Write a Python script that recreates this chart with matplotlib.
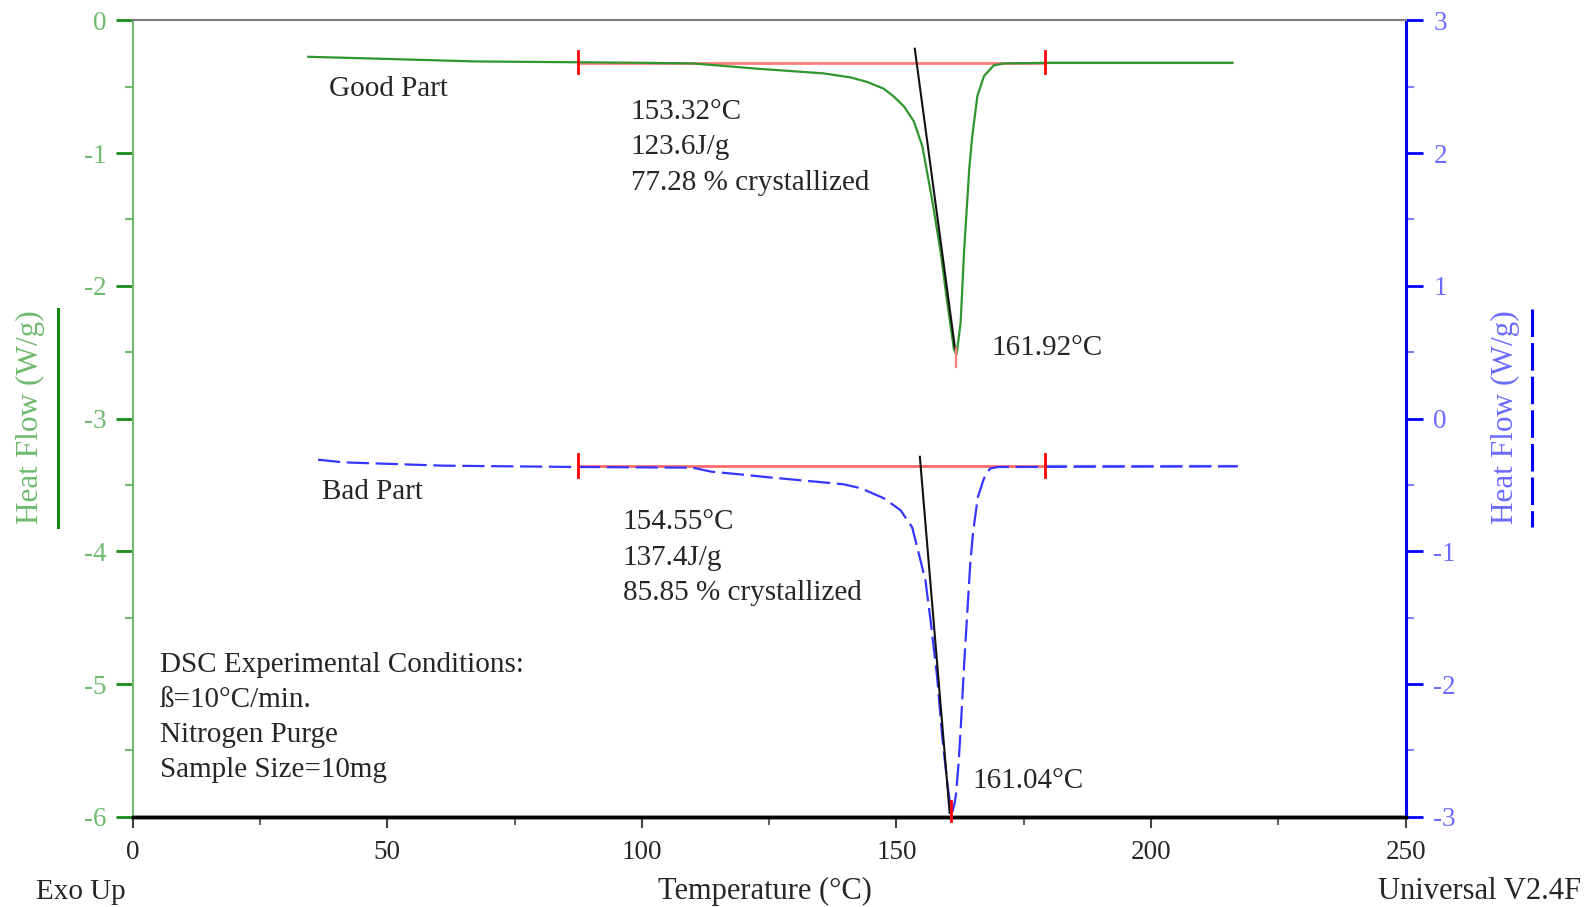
import matplotlib
matplotlib.use("Agg")
import matplotlib.pyplot as plt
from matplotlib.lines import Line2D
from matplotlib.ticker import MultipleLocator

plt.rcParams['font.family'] = ['Liberation Serif', 'DejaVu Serif']
plt.rcParams['axes.unicode_minus'] = False

# ---- data ----
good_T = [34.5, 49.0, 67.4, 100.0, 110.0, 116.5, 122.8, 128.4, 135.7, 141.0, 144.3,
          147.5, 149.5, 151.5, 153.4, 155.1, 157.0, 158.7, 160.0, 161.3, 161.8, 162.6,
          163.3, 164.3, 164.9, 165.9, 167.2, 169.1, 171.1, 180.0, 216.0]
good_HF = [-0.275, -0.29, -0.31, -0.32, -0.325, -0.345, -0.365, -0.38, -0.40, -0.43, -0.465,
           -0.515, -0.575, -0.65, -0.76, -0.95, -1.35, -1.75, -2.13, -2.48, -2.52, -2.28,
           -1.73, -1.12, -0.87, -0.57, -0.42, -0.34, -0.325, -0.32, -0.32]

bad_T = [36.4, 41.4, 61.1, 87.4, 110.0, 113.6, 120.0, 124.2, 132.6, 139.6, 143.0, 147.5,
         150.8, 153.1, 154.4, 155.7, 156.7, 158.0, 159.0, 160.0, 160.6, 161.0, 161.4,
         161.7, 162.2, 162.6, 163.3, 163.9, 164.5, 165.1, 166.0, 167.2, 168.4, 170.0, 217.0]
bad_HF = [-0.31, -0.33, -0.355, -0.365, -0.37, -0.40, -0.423, -0.44, -0.47, -0.495, -0.525,
          -0.60, -0.69, -0.82, -1.02, -1.22, -1.52, -1.95, -2.4, -2.75, -2.92, -2.96, -2.9,
          -2.83, -2.6, -2.35, -1.85, -1.47, -1.09, -0.84, -0.59, -0.45, -0.376, -0.365, -0.36]

# integration limits / baselines
limits_T = [87.4, 179.2]
good_base = -0.32
bad_base = -0.36
# tangent lines (onset construction)
good_tan_T = [153.6, 161.5]
good_tan_HF = [-0.214, -2.47]
bad_tan_T = [154.6, 160.45]
bad_tan_HF = [-0.288, -2.97]
good_peak_T = 161.6
bad_peak_T = 160.8

good_labels = ["153.32°C", "123.6J/g", "77.28 % crystallized"]
bad_labels = ["154.55°C", "137.4J/g", "85.85 % crystallized"]
cond_labels = ["DSC Experimental Conditions:", "ß=10°C/min.", "Nitrogen Purge",
               "Sample Size=10mg"]

x_ticks = [0, 50, 100, 150, 200, 250]
left_ticks = [0, -1, -2, -3, -4, -5, -6]
right_ticks = [3, 2, 1, 0, -1, -2, -3]

# ---- figure ----
W, H = 1589, 907
fig = plt.figure(figsize=(W / 100, H / 100), dpi=100)
L, R, T, B = 132.7, 1405.6, 20.3, 816.8
ax = fig.add_axes([L / W, 1 - B / H, (R - L) / W, (B - T) / H])
ax2 = ax.twinx()

GREEN_L = '#6fba6f'
GREEN = '#2f962f'
BLUE = '#3535ff'
TXT = '#262626'
FS = 21
FT = 19.5

ax.set_xlim(0, 250)
ax.set_ylim(-6, 0)
ax2.set_ylim(-3, 3)

# curves
ax.plot(good_T, good_HF, color=GREEN, lw=1.6, zorder=3)
ax2.plot(bad_T, bad_HF, color=BLUE, lw=1.6, dashes=(10, 3), zorder=3)

# baselines + limit bars
ax.plot(limits_T, [good_base, good_base], color='#ff7b7b', lw=2, zorder=2)
ax2.plot(limits_T, [bad_base, bad_base], color='#ff6a6a', lw=2, zorder=2)
for t in limits_T:
    ax.plot([t, t], [good_base + 0.09, good_base - 0.08], color='red', lw=2, zorder=4)
    ax2.plot([t, t], [bad_base + 0.09, bad_base - 0.08], color='red', lw=2, zorder=4)
ax.plot([limits_T[1], good_T[-1]], [good_base, good_base], color=GREEN_L, lw=1.6, zorder=2)
ax2.plot([limits_T[1], bad_T[-1]], [bad_base, bad_base], color='#7f7fff', lw=1.6,
         dashes=(10, 3), zorder=2)

# tangents
ax.plot(good_tan_T, good_tan_HF, color='#111111', lw=1.5, zorder=4)
ax2.plot(bad_tan_T, bad_tan_HF, color='#111111', lw=1.5, zorder=4)
# peak markers
ax.plot([good_peak_T, good_peak_T], [-2.47, -2.61], color='#ff7b7b', lw=1.6, zorder=5)
ax2.plot([bad_peak_T, bad_peak_T], [-2.88, -3.03], color='red', lw=2, zorder=5,
         clip_on=False)

# ---- axes styling ----
for a in (ax, ax2):
    a.spines['top'].set_color('#808080')
    a.spines['top'].set_linewidth(1.5)
    a.spines['bottom'].set_color('black')
    a.spines['bottom'].set_linewidth(2.5)
    a.spines['left'].set_color(GREEN_L)
    a.spines['left'].set_linewidth(1.3)
    a.spines['right'].set_color('blue')
    a.spines['right'].set_linewidth(2.2)

ax.set_xticks(x_ticks)
ax.set_xticklabels([str(v) for v in x_ticks])
ax.xaxis.set_minor_locator(MultipleLocator(25))
ax.tick_params(axis='x', which='major', direction='out', length=8, width=1.5,
               color='#444444', labelsize=FT, labelcolor=TXT, pad=9)
ax.tick_params(axis='x', which='minor', direction='out', length=6, width=1.5,
               color='#666666')

ax.set_yticks(left_ticks)
ax.set_yticklabels([str(v) for v in left_ticks])
ax.yaxis.set_minor_locator(MultipleLocator(0.5))
ax.tick_params(axis='y', which='major', direction='out', length=12, width=2,
               color='#1a8a1a', labelsize=FT, labelcolor=GREEN_L, pad=7)
ax.tick_params(axis='y', which='minor', direction='out', length=6, width=1.5,
               color=GREEN_L)

ax2.set_yticks(right_ticks)
ax2.set_yticklabels([str(v) for v in right_ticks])
ax2.yaxis.set_minor_locator(MultipleLocator(0.5))
ax2.tick_params(axis='y', which='major', direction='out', length=12, width=2,
                color='blue', labelsize=FT, labelcolor='#6a6aff', pad=8)
ax2.tick_params(axis='y', which='minor', direction='out', length=6, width=1.5,
                color='#8080ff')

# ---- annotations (data coordinates of left axis) ----
ax.text(38.6, -0.52, "Good Part", fontsize=FS, color=TXT, va='center', ha='left')
for i, s in enumerate(good_labels):
    ax.text(97.8, -0.688 - 0.267 * i, s, fontsize=FS, color=TXT, va='center', ha='left')
ax.text(168.6, -2.468, "161.92°C", fontsize=FS, color=TXT, va='center', ha='left')

ax.text(37.2, -3.554, "Bad Part", fontsize=FS, color=TXT, va='center', ha='left')
for i, s in enumerate(bad_labels):
    ax.text(96.2, -3.783 - 0.264 * i, s, fontsize=FS, color=TXT, va='center', ha='left')
ax.text(165.0, -5.73, "161.04°C", fontsize=FS, color=TXT, va='center', ha='left')

for i, s in enumerate(cond_labels):
    ax.text(5.4, -4.853 - 0.265 * i, s, fontsize=FS, color=TXT, va='center', ha='left')

# ---- figure texts ----
fig.text(35.5 / W, 1 - 891.8 / H, "Exo Up", fontsize=FS, color=TXT, ha='left', va='center')
fig.text(765 / W, 1 - 891.8 / H, "Temperature (°C)", fontsize=22, color=TXT,
         ha='center', va='center')
fig.text(1581 / W, 1 - 891.8 / H, "Universal V2.4F", fontsize=22, color=TXT,
         ha='right', va='center')

fig.text(30.4 / W, 1 - 417.5 / H, "Heat Flow (W/g)", fontsize=22.5, color=GREEN_L,
         rotation=90, ha='center', va='center')
fig.text(1505 / W, 1 - 417.5 / H, "Heat Flow (W/g)", fontsize=22.5, color='#6a6aff',
         rotation=90, ha='center', va='center')
fig.add_artist(Line2D([57.8 / W, 57.8 / W], [1 - 309 / H, 1 - 527 / H],
                      color='#108a10', lw=2.2, transform=fig.transFigure))
fig.add_artist(Line2D([1532 / W, 1532 / W], [1 - 309 / H, 1 - 527 / H],
                      color='blue', lw=2.2, dashes=(9, 2), transform=fig.transFigure))

fig.savefig("out.png", dpi=100)
